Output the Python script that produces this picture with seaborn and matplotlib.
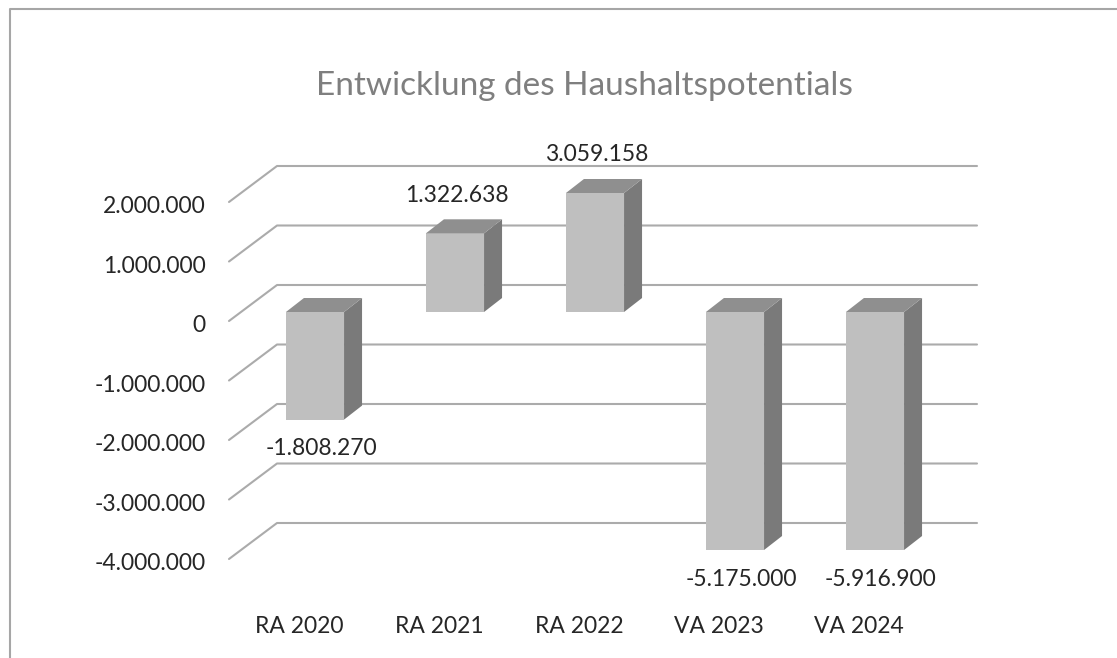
import numpy as np
import pandas as pd
import seaborn as sns
import matplotlib.pyplot as plt
from matplotlib.patches import Polygon
from matplotlib.lines import Line2D
from matplotlib.transforms import ScaledTranslation

# data
categories = ["RA 2020", "RA 2021", "RA 2022", "VA 2023", "VA 2024"]
values = [-1808270, 1322638, 3059158, -5175000, -5916900]
y_ticks = [-4000000, -3000000, -2000000, -1000000, 0, 1000000, 2000000]
y_min, y_max = -4000000, 2000000
title = "Entwicklung des Haushaltspotentials"


def de_fmt(v):
    return f"{v:,.0f}".replace(",", ".")


sns.set_theme(style="white")
plt.rcParams['font.family'] = ['Lato', 'DejaVu Sans']

W, H = 1117, 658
fig = plt.figure(figsize=(W / 100, H / 100), dpi=100)
ax = fig.add_axes([229 / W, 1 - 559 / H, 700 / W, 357 / H])

# excel clips the columns at the axis range
df = pd.DataFrame({"cat": categories, "val": np.clip(values, y_min, y_max)})
sns.barplot(data=df, x="cat", y="val", color="#BFBFBF", width=0.415,
            saturation=1, linewidth=0, ax=ax, zorder=3)
ax.set_xlim(-0.5, 4.5)
ax.set_ylim(y_min, y_max)

# pixel -> data scale for the fake 3d depth
px_x = ax.transData.transform((1, 0))[0] - ax.transData.transform((0, 0))[0]
px_y = ax.transData.transform((0, 1e6))[1] - ax.transData.transform((0, 0))[1]
fx, fy = 48 / px_x, 36 / px_y * 1e6      # full floor depth
sx, sy = 16 / px_x, 9 / px_y * 1e6       # bar front sits behind the floor edge
bx, by = 18 / px_x, 14 / px_y * 1e6      # bar depth

# gridlines: diagonal on the side wall, then along the back wall
for v in y_ticks:
    ax.plot([-0.5, -0.5 + fx, 4.5 + fx], [v, v + fy, v + fy],
            color="#ABABAB", lw=1.5, clip_on=False, zorder=1)

for i, p in enumerate(ax.patches):
    x0 = p.get_x() + sx
    w = p.get_width()
    y0 = p.get_y() + sy
    h = p.get_height()
    p.set_x(x0)
    p.set_y(y0)
    p.set_clip_on(False)
    x1 = x0 + w
    bot, top = min(y0, y0 + h), max(y0, y0 + h)
    side = Polygon([(x1, bot), (x1 + bx, bot + by), (x1 + bx, top + by), (x1, top)],
                   closed=True, facecolor="#7A7A7A", edgecolor="none",
                   clip_on=False, zorder=3)
    cap = Polygon([(x0, top), (x0 + bx, top + by), (x1 + bx, top + by), (x1, top)],
                  closed=True, facecolor="#8F8F8F", edgecolor="none",
                  clip_on=False, zorder=3)
    ax.add_patch(side)
    ax.add_patch(cap)

# data labels with the real (unclipped) values
for i, v in enumerate(values):
    vc = df["val"][i] + sy
    if v >= 0:
        off = (18, 38)
    else:
        off = (22, -29)
    ax.annotate(de_fmt(v), xy=(i, vc), xytext=off, textcoords="offset pixels",
                ha="center", va="center", fontsize=16.5, color="#262626",
                annotation_clip=False)

ax.set_yticks(y_ticks)
ax.set_yticklabels([de_fmt(v) for v in y_ticks])
ax.tick_params(axis="y", length=0, pad=17, labelsize=16.5, labelcolor="#262626")
ax.tick_params(axis="x", length=0, pad=41, labelsize=16.5, labelcolor="#262626")
for lbl in ax.get_yticklabels():
    lbl.set_transform(lbl.get_transform() + ScaledTranslation(0, -0.03, fig.dpi_scale_trans))
ax.set_xlabel("")
ax.set_ylabel("")
for s in ax.spines.values():
    s.set_visible(False)

fig.text(584 / W, 1 - 86 / H, title, ha="center", va="center",
         fontsize=24, color="#7F7F7F")

# chart frame (only left and top edge are visible)
fig.add_artist(Line2D([10 / W, 10 / W, 1], [0, 1 - 9 / H, 1 - 9 / H],
                      transform=fig.transFigure, color="#A6A6A6", lw=1.5))

fig.savefig("out.png", dpi=100)
